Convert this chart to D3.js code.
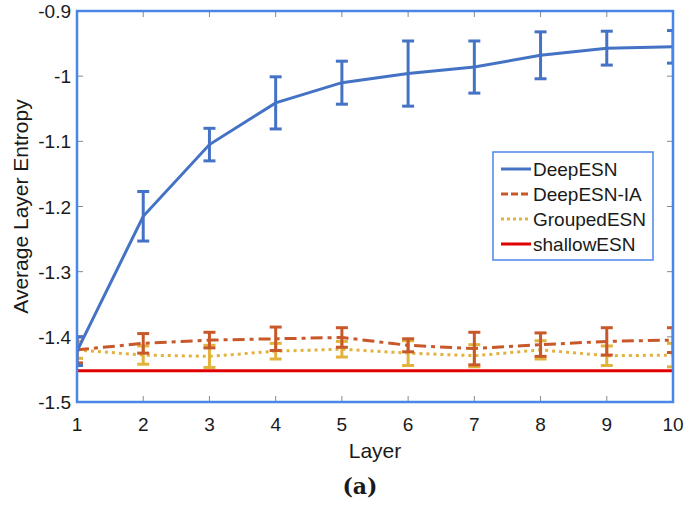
<!DOCTYPE html>
<html>
<head>
<meta charset="utf-8">
<script src="https://cdn.jsdelivr.net/npm/d3@7"></script>
<style>
  body { margin: 0; background: #fff; }
  svg text { font-family: "Liberation Sans", Arial, sans-serif; fill: #1a1a1a; }
</style>
</head>
<body>
<div id="chartDiv"></div>
<script>
const layers = [1, 2, 3, 4, 5, 6, 7, 8, 9, 10];
const deepMean = [-1.422, -1.215, -1.105, -1.041, -1.010, -0.996, -0.986, -0.968, -0.957, -0.955];
const deepErr = [0.022, 0.038, 0.025, 0.040, 0.033, 0.050, 0.040, 0.036, 0.026, 0.025];
const iaMean = [-1.420, -1.410, -1.405, -1.403, -1.401, -1.413, -1.418, -1.412, -1.407, -1.405];
const iaErr = [0.020, 0.015, 0.012, 0.018, 0.015, 0.010, 0.025, 0.018, 0.021, 0.019];
const grpMean = [-1.420, -1.428, -1.430, -1.422, -1.419, -1.425, -1.429, -1.420, -1.429, -1.428];
const grpErr = [0.013, 0.014, 0.017, 0.012, 0.012, 0.019, 0.017, 0.014, 0.015, 0.018];
const shallowMean = [-1.452, -1.452, -1.452, -1.452, -1.452, -1.452, -1.452, -1.452, -1.452, -1.452];
const yTicks = [-1.5, -1.4, -1.3, -1.2, -1.1, -1, -0.9];
const seriesNames = ['DeepESN', 'DeepESN-IA', 'GroupedESN', 'shallowESN'];

const margin = { top: 11, right: 13, bottom: 104, left: 77 };
const fullWidth = 686, fullHeight = 506;
const width = fullWidth - margin.left - margin.right;
const height = fullHeight - margin.top - margin.bottom;

const series = [
    { name: seriesNames[0], mean: deepMean, err: deepErr, color: '#4472c4', dash: null },
    { name: seriesNames[1], mean: iaMean, err: iaErr, color: '#c8582a', dash: '12,5,4,5' },
    { name: seriesNames[2], mean: grpMean, err: grpErr, color: '#e2b33c', dash: '3,4' },
    { name: seriesNames[3], mean: shallowMean, err: null, color: '#e00000', dash: null }
];

const svg = d3.select('#chartDiv').append('svg')
    .attr('width', fullWidth)
    .attr('height', fullHeight);

const g = svg.append('g').attr('transform', `translate(${margin.left},${margin.top})`);

const x = d3.scaleLinear().domain([1, 10]).range([0, width]);
const y = d3.scaleLinear().domain([-1.5, -0.9]).range([height, 0]);

g.append('clipPath').attr('id', 'plotClip')
    .append('rect').attr('width', width).attr('height', height);

// inward ticks
const tickColor = '#888';
layers.forEach(d => {
    g.append('line').attr('x1', x(d)).attr('x2', x(d)).attr('y1', height).attr('y2', height - 6)
        .attr('stroke', tickColor).attr('stroke-width', 1);
    g.append('line').attr('x1', x(d)).attr('x2', x(d)).attr('y1', 0).attr('y2', 6)
        .attr('stroke', tickColor).attr('stroke-width', 1);
});
yTicks.forEach(d => {
    g.append('line').attr('x1', 0).attr('x2', 6).attr('y1', y(d)).attr('y2', y(d))
        .attr('stroke', tickColor).attr('stroke-width', 1);
    g.append('line').attr('x1', width).attr('x2', width - 6).attr('y1', y(d)).attr('y2', y(d))
        .attr('stroke', tickColor).attr('stroke-width', 1);
});

// tick labels (plain hyphen minus like the original)
g.selectAll('.xlab').data(layers).enter().append('text')
    .attr('x', d => x(d)).attr('y', height + 29)
    .attr('text-anchor', 'middle').attr('font-size', 19)
    .text(d => d);
g.selectAll('.ylab').data(yTicks).enter().append('text')
    .attr('x', -6).attr('y', d => y(d) + 7)
    .attr('text-anchor', 'end').attr('font-size', 19)
    .text(d => String(d));

// titles
g.append('text').attr('x', width / 2).attr('y', height + 56)
    .attr('text-anchor', 'middle').attr('font-size', 21).text('Layer');
g.append('text')
    .attr('transform', `translate(${-49},${height / 2}) rotate(-90)`)
    .attr('text-anchor', 'middle').attr('font-size', 21).text('Average Layer Entropy');
svg.append('text').attr('x', 360).attr('y', 494)
    .attr('text-anchor', 'middle').attr('font-size', 22).attr('font-weight', 'bold')
    .style('font-family', '"DejaVu Serif", "Liberation Serif", serif')
    .text('(a)');

const plot = g.append('g').attr('clip-path', 'url(#plotClip)');

const line = d3.line().x((d, i) => x(layers[i])).y(d => y(d));

// draw in reverse order so DeepESN is on top
series.slice().reverse().forEach(s => {
    plot.append('path')
        .datum(s.mean)
        .attr('fill', 'none')
        .attr('stroke', s.color)
        .attr('stroke-width', 3)
        .attr('stroke-dasharray', s.dash)
        .attr('d', line);
    if (s.err) {
        const eb = plot.append('g').attr('stroke', s.color).attr('stroke-width', 3);
        s.mean.forEach((m, i) => {
            const cx = x(layers[i]);
            const y1 = y(m + s.err[i]), y2 = y(m - s.err[i]);
            eb.append('line').attr('x1', cx).attr('x2', cx).attr('y1', y1).attr('y2', y2);
            eb.append('line').attr('x1', cx - 6).attr('x2', cx + 6).attr('y1', y1).attr('y2', y1);
            eb.append('line').attr('x1', cx - 6).attr('x2', cx + 6).attr('y1', y2).attr('y2', y2);
        });
    }
});

// axes box
g.append('rect').attr('width', width).attr('height', height)
    .attr('fill', 'none').attr('stroke', '#4a86e8').attr('stroke-width', 2.5);

// legend
const lg = svg.append('g').attr('transform', 'translate(493,152)');
lg.append('rect').attr('width', 160).attr('height', 108)
    .attr('fill', '#fff').attr('stroke', '#4a86e8').attr('stroke-width', 1.5);
series.forEach((s, i) => {
    const ly = 17 + i * 25;
    lg.append('line').attr('x1', 8).attr('x2', 38).attr('y1', ly).attr('y2', ly)
        .attr('stroke', s.color).attr('stroke-width', 3)
        .attr('stroke-dasharray', s.dash ? (i === 1 ? '7,3' : '3,3') : null);
    lg.append('text').attr('x', 40).attr('y', ly + 7).attr('font-size', 19).text(s.name);
});
</script>
</body>
</html>
